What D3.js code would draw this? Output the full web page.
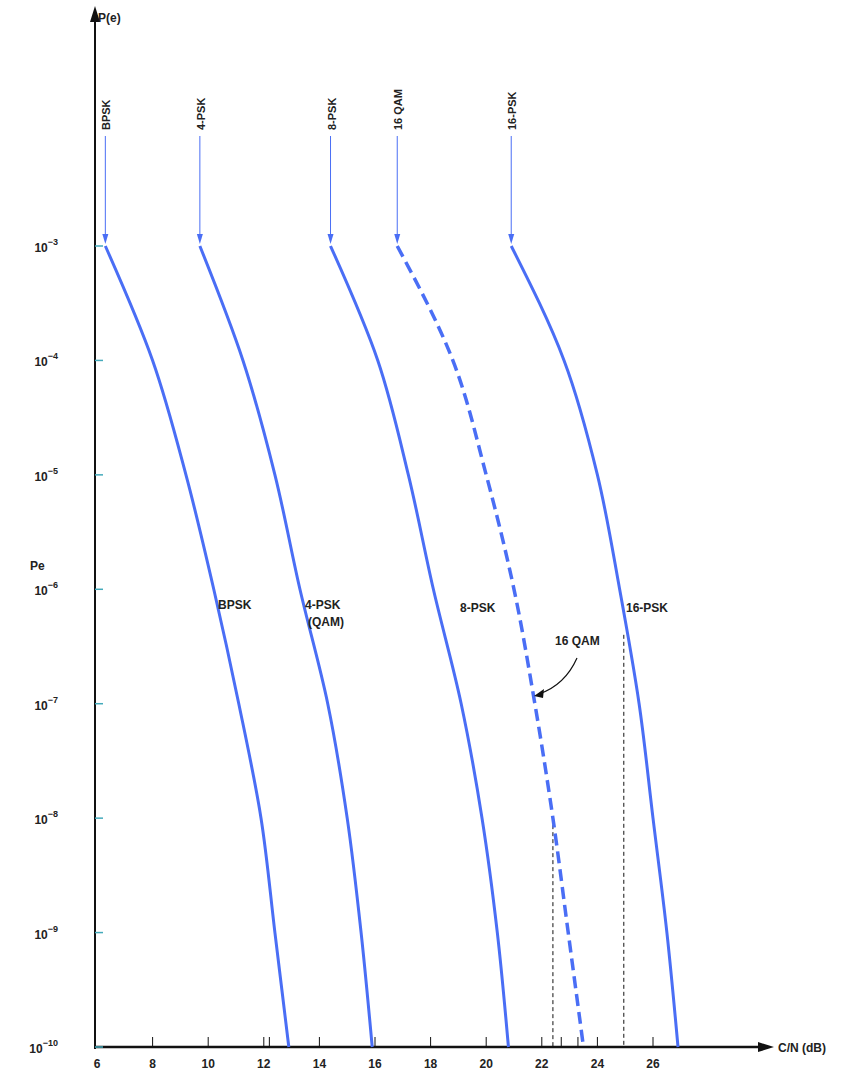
<!DOCTYPE html><html><head><meta charset="utf-8">
<script src="https://d3js.org/d3.v7.min.js"></script>
<style>body{margin:0;background:#fff}text{font-family:"Liberation Sans",Arial,sans-serif;font-weight:bold;fill:#222}</style></head><body>
<svg id="c" width="853" height="1092"></svg>
<script>
const probs=[1e-3,1e-4,1e-5,1e-6,1e-7,1e-8,1e-9,1e-10];
const xTicks=[6,8,10,12,14,16,18,20,22,24,26];
const bpsk=[6.3,8.0,9.2,10.2,11.1,11.9,12.4,12.9];
const psk4=[9.7,11.25,12.4,13.3,14.3,15.0,15.5,15.9];
const psk8=[14.4,16.1,17.2,18.1,19.1,19.85,20.4,20.8];
const qam16=[16.8,18.8,20.0,21.0,21.75,22.4,22.95,23.5];
const psk16=[20.9,22.8,24.0,24.8,25.5,26.0,26.5,26.9];
const series=[{name:"BPSK",v:bpsk,dash:false},{name:"4-PSK",v:psk4,dash:false},{name:"8-PSK",v:psk8,dash:false},{name:"16 QAM",v:qam16,dash:true},{name:"16-PSK",v:psk16,dash:false}];
const svg=d3.select("#c");
const x=d3.scaleLinear().domain([6,26]).range([97,653]);
const y=d3.scaleLog().domain([1e-10,1e-3]).range([1047,246]);
const blue="#4a6ef5";
svg.append("line").attr("x1",95).attr("x2",95).attr("y1",1049).attr("y2",14).attr("stroke","#111").attr("stroke-width",2);
svg.append("path").attr("d","M95,6 L90,22 L100,22Z").attr("fill","#111");
svg.append("line").attr("x1",95).attr("x2",762).attr("y1",1047).attr("y2",1047).attr("stroke","#111").attr("stroke-width",2.5);
svg.append("path").attr("d","M774,1047 L758,1042 L758,1052Z").attr("fill","#111");
svg.append("text").attr("x",98).attr("y",22).attr("font-size",12).text("P(e)");
svg.append("text").attr("x",778).attr("y",1052).attr("font-size",12).text("C/N (dB)");
svg.append("text").attr("x",30).attr("y",570).attr("font-size",12).text("Pe");
probs.forEach(p=>{
  svg.append("line").attr("x1",95).attr("x2",103).attr("y1",y(p)).attr("y2",y(p)).attr("stroke","#4ab").attr("stroke-width",1.5);
  const e=Math.round(Math.log10(p));
  const t=svg.append("text").attr("x",58).attr("y",y(p)+6).attr("text-anchor","end").attr("font-size",12).attr("font-weight","normal");
  t.append("tspan").text("10");
  t.append("tspan").attr("dy",-7).attr("font-size",9).text("\u2212"+(-e));
});
xTicks.forEach(v=>{
  if(v>6) svg.append("line").attr("x1",x(v)).attr("x2",x(v)).attr("y1",1047).attr("y2",1037).attr("stroke","#111");
  svg.append("text").attr("x",x(v)).attr("y",1068).attr("text-anchor","middle").attr("font-size",12).text(v);
});
[12.2,22.7,23.3].forEach(v=>svg.append("line").attr("x1",x(v)).attr("x2",x(v)).attr("y1",1047).attr("y2",1037).attr("stroke","#111"));
svg.append("line").attr("x1",x(22.4)).attr("x2",x(22.4)).attr("y1",y(1e-8)).attr("y2",1047).attr("stroke","#111").attr("stroke-dasharray","4,3");
svg.append("line").attr("x1",x(24.95)).attr("x2",x(24.95)).attr("y1",y(4e-7)).attr("y2",1047).attr("stroke","#111").attr("stroke-dasharray","4,3");
const line=d3.line().x(d=>x(d[0])).y(d=>y(d[1])).curve(d3.curveMonotoneY);
series.forEach(s=>{
  svg.append("path").attr("d",line(s.v.map((v,i)=>[v,probs[i]]))).attr("fill","none").attr("stroke",blue).attr("stroke-width",s.dash?3.5:3).attr("stroke-dasharray",s.dash?"12,6":null);
  const sx=x(s.v[0]);
  svg.append("line").attr("x1",sx).attr("x2",sx).attr("y1",136).attr("y2",238).attr("stroke",blue).attr("stroke-width",1);
  svg.append("path").attr("d",`M${sx},${y(1e-3)-2} L${sx-3},${y(1e-3)-12} L${sx+3},${y(1e-3)-12}Z`).attr("fill",blue);
  svg.append("text").attr("transform",`translate(${sx+5},130) rotate(-90)`).attr("font-size",11).text(s.name);
});
svg.append("text").attr("x",218).attr("y",609).attr("font-size",12).text("BPSK");
svg.append("text").attr("x",305).attr("y",609).attr("font-size",12).text("4-PSK");
svg.append("text").attr("x",308).attr("y",626).attr("font-size",12).text("(QAM)");
svg.append("text").attr("x",460).attr("y",612).attr("font-size",12).text("8-PSK");
svg.append("text").attr("x",626).attr("y",612).attr("font-size",12).text("16-PSK");
svg.append("text").attr("x",555).attr("y",645).attr("font-size",12).text("16 QAM");
svg.append("path").attr("d",`M577,658 Q565,685 539,694`).attr("fill","none").attr("stroke","#111").attr("stroke-width",1.2);
svg.append("path").attr("d","M534,696 L544,689 L543,698Z").attr("fill","#111");
</script></body></html>
